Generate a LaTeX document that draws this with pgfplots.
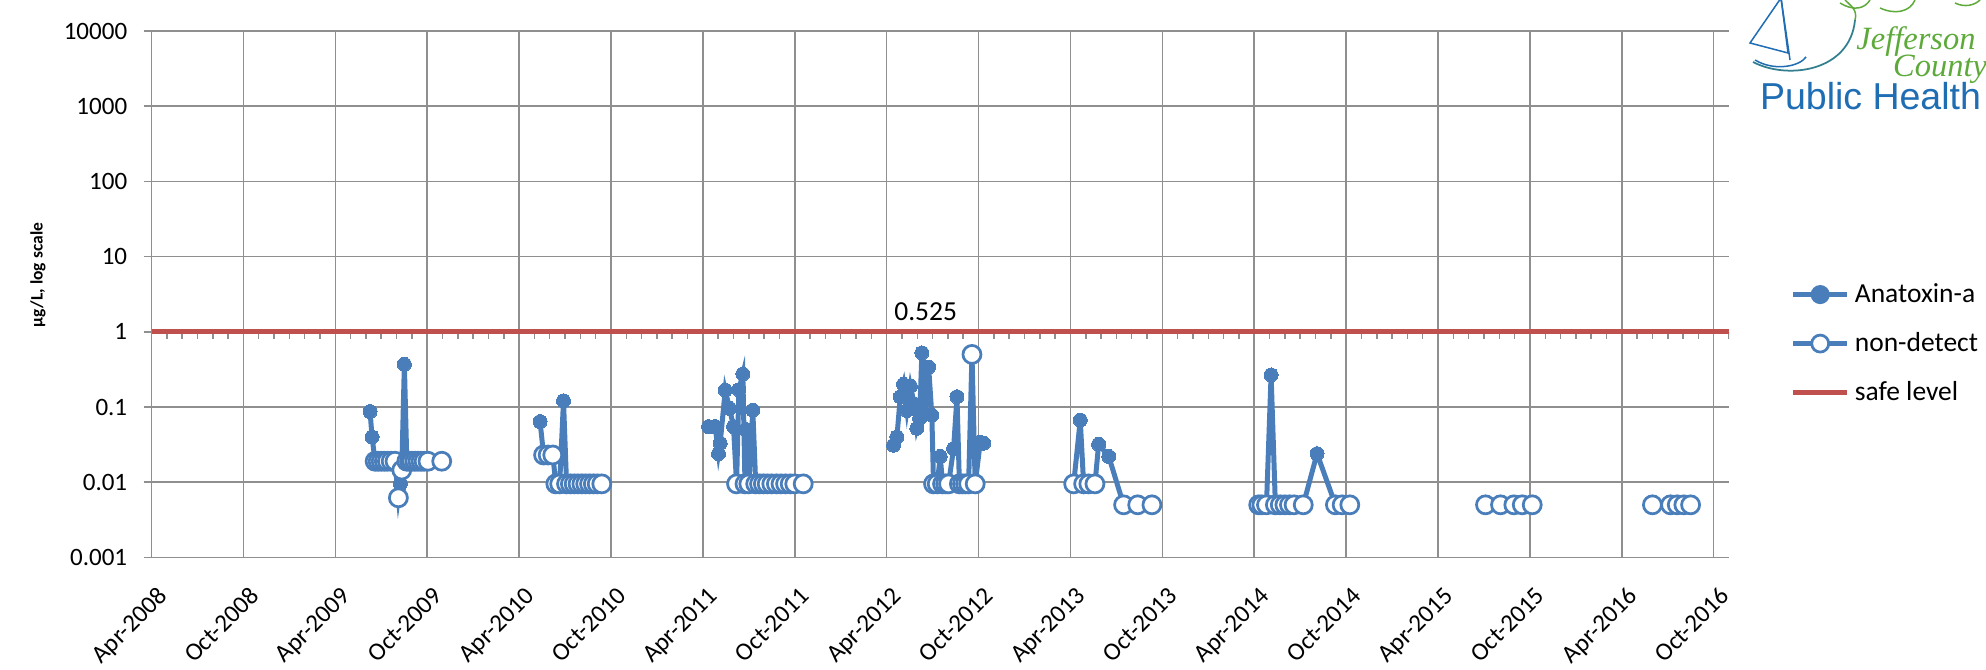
\documentclass[border=0pt]{standalone}
\usepackage{fontspec}
\setmainfont{Carlito}
\newfontfamily\logofont{Liberation Sans}
\newfontfamily\jcfont{Liberation Serif}
\usepackage{pgfplots}
\pgfplotsset{compat=1.18}
\usepackage{pgfplotstable}
\definecolor{anat}{HTML}{4A7EBB}
\definecolor{safe}{HTML}{C0504D}
\definecolor{gridc}{HTML}{8F8F8F}
\definecolor{logoblue}{HTML}{1F6DB3}
\definecolor{logogreen}{HTML}{5DAA3A}
% m = months since Apr-2008; v = value (ug/L); nd = value if non-detect
\pgfplotstableread{
m v nd
14.27 0.087 nan
14.40 0.040 nan
14.60 0.019 0.019
14.80 0.019 0.019
15.00 0.019 0.019
15.20 0.019 0.019
15.40 0.019 0.019
15.65 0.019 0.019
15.90 0.019 0.019
16.12 0.0062 0.0062
16.25 0.0095 nan
16.34 0.0145 0.0145
16.51 0.37 nan
16.67 0.019 0.019
16.85 0.019 0.019
17.00 0.019 0.019
17.20 0.019 0.019
17.40 0.019 0.019
17.60 0.019 0.019
17.80 0.019 0.019
18.05 0.019 0.019
18.95 0.019 0.019
nan nan nan
25.37 0.064 nan
25.60 0.023 0.023
25.90 0.023 0.023
26.20 0.023 0.023
26.40 0.0095 0.0095
26.65 0.0095 0.0095
26.90 0.121 nan
27.10 0.0095 0.0095
27.35 0.0095 0.0095
27.60 0.0095 0.0095
27.85 0.0095 0.0095
28.10 0.0095 0.0095
28.35 0.0095 0.0095
28.60 0.0095 0.0095
28.85 0.0095 0.0095
29.10 0.0095 0.0095
29.40 0.0095 0.0095
nan nan nan
36.37 0.055 nan
36.80 0.055 nan
37.02 0.024 nan
37.13 0.033 nan
37.46 0.168 nan
37.74 0.096 nan
38.00 0.055 nan
38.20 0.0095 0.0095
38.35 0.17 nan
38.61 0.275 nan
38.75 0.0095 0.0095
38.83 0.05 nan
39.00 0.0095 0.0095
39.26 0.091 nan
39.45 0.0095 0.0095
39.70 0.0095 0.0095
39.95 0.0095 0.0095
40.20 0.0095 0.0095
40.50 0.0095 0.0095
40.80 0.0095 0.0095
41.10 0.0095 0.0095
41.40 0.0095 0.0095
41.70 0.0095 0.0095
42.00 0.0095 0.0095
42.55 0.0095 0.0095
nan nan nan
48.45 0.031 nan
48.67 0.040 nan
48.89 0.137 nan
49.10 0.20 nan
49.32 0.09 nan
49.55 0.19 nan
49.80 0.11 nan
49.97 0.052 nan
50.15 0.07 nan
50.30 0.525 nan
50.52 0.08 nan
50.74 0.34 nan
50.95 0.078 nan
51.06 0.0095 0.0095
51.30 0.0095 0.0095
51.50 0.022 nan
51.65 0.0095 0.0095
51.85 0.0095 0.0095
52.04 0.0095 0.0095
52.37 0.028 nan
52.59 0.137 nan
52.75 0.0095 0.0095
52.95 0.0095 0.0095
53.15 0.0095 0.0095
53.35 0.0095 0.0095
53.57 0.50 0.50
53.78 0.0095 0.0095
54.11 0.034 nan
54.33 0.033 nan
nan nan nan
60.21 0.0095 0.0095
60.64 0.067 nan
60.86 0.0095 0.0095
61.20 0.0095 0.0095
61.60 0.0095 0.0095
61.84 0.032 nan
62.50 0.022 nan
63.47 0.005 0.005
64.39 0.005 0.005
65.32 0.005 0.005
nan nan nan
72.29 0.005 0.005
72.50 0.005 0.005
72.80 0.005 0.005
73.10 0.267 nan
73.38 0.005 0.005
73.70 0.005 0.005
74.00 0.005 0.005
74.30 0.005 0.005
74.60 0.005 0.005
75.20 0.005 0.005
76.10 0.024 nan
77.30 0.005 0.005
77.74 0.005 0.005
78.24 0.005 0.005
nan nan nan
87.10 0.005 0.005
88.08 0.005 0.005
88.95 0.005 0.005
89.50 0.005 0.005
90.15 0.005 0.005
nan nan nan
98.00 0.005 0.005
99.18 0.005 0.005
99.62 0.005 0.005
100.05 0.005 0.005
100.49 0.005 0.005
}\data
\begin{document}
\begin{tikzpicture}
\begin{axis}[
  at={(0pt,0pt)}, anchor=south west,
  scale only axis, width=631pt, height=210.56pt,
  ymode=log, ymin=0.001, ymax=10000,
  xmin=0, xmax=103,
  xtick={0,6,...,102},
  xticklabels={Apr-2008,Oct-2008,Apr-2009,Oct-2009,Apr-2010,Oct-2010,Apr-2011,Oct-2011,Apr-2012,Oct-2012,Apr-2013,Oct-2013,Apr-2014,Oct-2014,Apr-2015,Oct-2015,Apr-2016,Oct-2016},
  ytick={0.001,0.01,0.1,1,10,100,1000,10000},
  yticklabels={0.001,0.01,0.1,1,10,100,1000,10000},
  yminorticks=false, minor y tick num=0,
  grid=major, major grid style={draw=gridc, line width=0.6pt},
  axis line style={draw=none},
  xtick style={draw=none},
  ytick style={draw=gridc, line width=0.6pt},
  tick align=outside, ytick pos=left, major tick length=3.2pt,
  tick label style={font=\fontsize{10}{12}\selectfont, text=black},
  xticklabel style={anchor=north east, xshift=1.8pt, yshift=-3.2pt, rotate=45},
  yticklabel style={xshift=-3pt},
  ylabel={\textbf{µg/L, log scale}},
  ylabel style={at={(axis description cs:-0.072,0.5365)}, anchor=center, font=\fontsize{7}{8}\selectfont},
  legend style={at={(axis description cs:1.0387,0.406)}, anchor=west, draw=none, fill=none,
    font=\fontsize{11}{12}\selectfont, row sep=6.5pt, inner sep=0pt},
  legend cell align=left,
  unbounded coords=jump,
]
\pgfplotsinvokeforeach{0,1,...,103}{\draw[gridc, line width=0.6pt] (axis cs:#1,1) -- ++(0pt,-2.8pt);}
\addplot[anat, line width=2pt, mark=*, mark size=2.8pt, mark options={fill=anat, draw=anat, line width=0pt},
  legend image code/.code={\draw[anat, line width=2pt] (0pt,0pt) -- (21.7pt,0pt); \fill[anat] (10.85pt,0pt) circle (2.8pt);}]
  table[x=m, y=v]{\data};
\addlegendentry{Anatoxin-a}
\addplot[only marks, mark=*, mark size=3.6pt, mark options={fill=white, draw=anat, line width=1.1pt},
  legend image code/.code={\draw[anat, line width=2pt] (0pt,0pt) -- (21.7pt,0pt); \draw[anat, fill=white, line width=1.1pt] (10.85pt,0pt) circle (3.4pt);}]
  table[x=m, y=nd]{\data};
\addlegendentry{non-detect}
\addplot[safe, line width=2pt, legend image code/.code={\draw[safe, line width=2pt] (0pt,0pt) -- (21.7pt,0pt);}]
  coordinates {(0,1) (103,1)};
\addlegendentry{safe level}
\node[font=\fontsize{11}{13}\selectfont] at (axis cs:50.55,1.85) {0.525};
\end{axis}
\begin{scope}[x=0.4pt, y=-0.4pt, shift={(-60.6pt,222.96pt)}]
  \node[font=\logofont\fontsize{15}{15}\selectfont, text=logoblue, anchor=base, inner sep=0pt] at (1870.5,110) {Public Health};
  \node[font=\jcfont\itshape\fontsize{13}{13}\selectfont, text=logogreen, anchor=base, inner sep=0pt] at (1916,50) {Jefferson};
  \node[font=\jcfont\itshape\fontsize{13}{13}\selectfont, text=logogreen, anchor=base, inner sep=0pt] at (1940,77) {County};
  \draw[logoblue, line width=0.6pt] (1781,-2) -- (1750,43) -- (1788,53) -- cycle;
  \draw[logoblue, line width=0.6pt] (1781,-2) -- (1790,60);
  \draw[logoblue, line width=0.6pt] (1755,60) .. controls (1775,72) and (1800,66) .. (1806,57);
  \draw[logoblue!70!logogreen, line width=0.7pt] (1753,62) .. controls (1787,80) and (1850,72) .. (1855,20);
  \draw[logogreen, line width=0.6pt] (1855,20) .. controls (1858,10) and (1850,5) .. (1845,0);
  \draw[logogreen, line width=0.6pt] (1840,3) .. controls (1855,12) and (1865,8) .. (1870,0);
  \draw[logogreen, line width=0.6pt] (1880,8) .. controls (1895,15) and (1910,12) .. (1915,0);
  \draw[logogreen, line width=0.6pt] (1955,3) .. controls (1965,8) and (1975,5) .. (1980,0);
  \pgfresetboundingbox
  \useasboundingbox (0,0) rectangle (1986,670);
\end{scope}
\end{tikzpicture}
\end{document}
